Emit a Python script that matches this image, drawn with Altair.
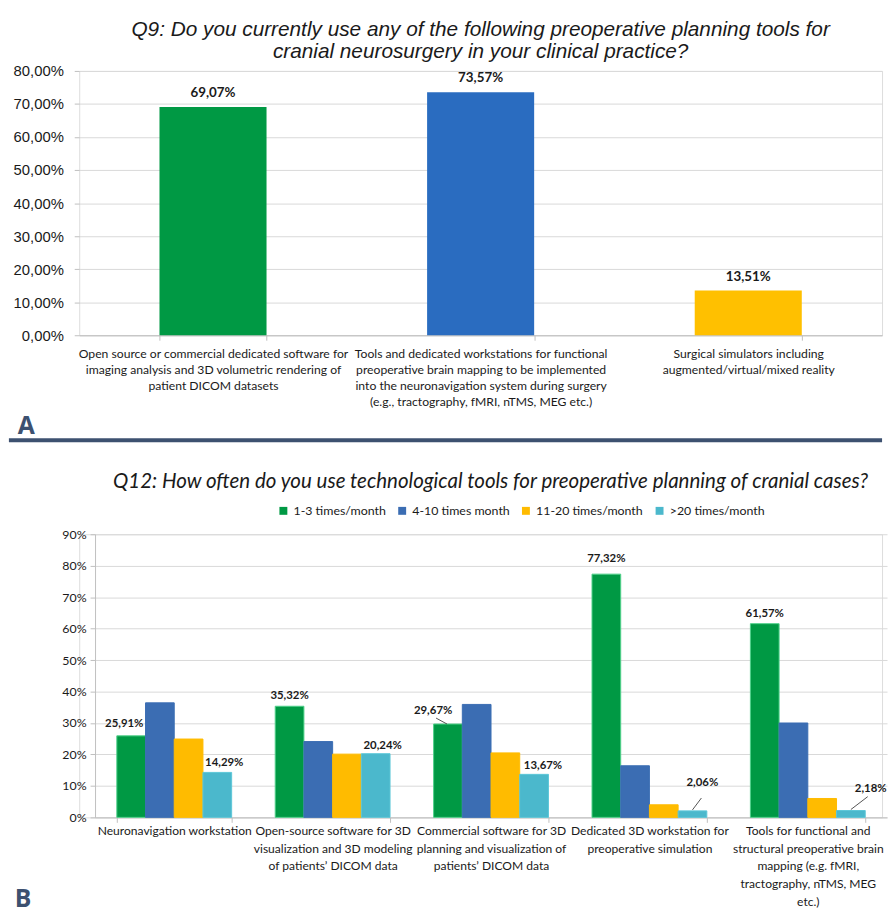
import altair as alt
import pandas as pd

# ---------------- data ----------------
q9_title = ["Q9: Do you currently use any of the following preoperative planning tools for",
            "cranial neurosurgery in your clinical practice?"]
q9_label_lines = [
    ["Open source or commercial dedicated software for",
     "imaging analysis and 3D volumetric rendering of",
     "patient DICOM datasets"],
    ["Tools and dedicated workstations for functional",
     "preoperative brain mapping to be implemented",
     "into the neuronavigation system during surgery",
     "(e.g., tractography, fMRI, nTMS, MEG etc.)"],
    ["Surgical simulators including",
     "augmented/virtual/mixed reality"],
]
q9_values = [69.07, 73.57, 13.51]
q9_colors = ["#009944", "#2a6cc0", "#ffc000"]

q12_title = "Q12: How often do you use technological tools for preoperative planning of cranial cases?"
q12_label_lines = [
    ["Neuronavigation workstation"],
    ["Open-source software for 3D", "visualization and 3D modeling", "of patients\u2019 DICOM data"],
    ["Commercial software for 3D", "planning and visualization of", "patients\u2019 DICOM data"],
    ["Dedicated 3D workstation for", "preoperative simulation"],
    ["Tools for functional and", "structural preoperative brain", "mapping (e.g. fMRI,",
     "tractography, nTMS, MEG", "etc.)"],
]
q12_series = ["1-3 times/month", "4-10 times month", "11-20 times/month", ">20 times/month"]
q12_s1 = [25.91, 35.32, 29.67, 77.32, 61.57]
q12_s2 = [36.4, 24.1, 35.9, 16.4, 30.0]
q12_s3 = [24.9, 20.1, 20.5, 4.0, 6.0]
q12_s4 = [14.29, 20.24, 13.67, 2.06, 2.18]
q12_colors = ["#009944", "#3b6db3", "#ffbb00", "#4bb8cc"]
q12_edges = ["#4fd08a", "#3b6db3", "#ffbb00", "#5cc6d8"]
# which bars carry a value label (category index, series index)
q12_labelled = [(0, 0), (0, 3), (1, 0), (1, 3), (2, 0), (2, 3), (3, 0), (3, 3), (4, 0), (4, 3)]
# label offsets in pixels (style only)
q12_label_offsets = [(-7, -9), (7, -6), (0, -7), (7, -5), (-15, -10), (9, -5), (0, -12), (10, -25), (0, -7), (20, -19)]
# leader lines (category index, series index) and their pixel path (style only)
q12_leaders = [(2, 0), (3, 3), (4, 3)]
q12_leader_paths = ["M-1,0L-12,-6", "M0,-1L9,-13", "M0,-1L17,-14"]

# ---------------- build ----------------
SEP = "|"
q9_cats = [SEP.join(l) for l in q9_label_lines]
q12_cats = [SEP.join(l) for l in q12_label_lines]
q12_all = [q12_s1, q12_s2, q12_s3, q12_s4]

df9 = pd.DataFrame({"cat": q9_cats, "value": q9_values, "color": q9_colors})

rows = []
for ci, cat in enumerate(q12_cats):
    for si, s in enumerate(q12_series):
        rows.append({"cat": cat, "series": s, "value": q12_all[si][ci]})
df12 = pd.DataFrame(rows)

W = 811
H9 = 267
H12 = 286
NARROW = "Liberation Sans Narrow, Arial Narrow, Liberation Sans, sans-serif"
LABEL_FONT = "Lato"
GRID = "#d9d9d9"
AXC = "#bfbfbf"
DARK = "#3d5170"
TXT = "#1a1a1a"

pct2 = "replace(format(datum.value, '.2f'), '.', ',') + '%'"

x9 = alt.X("cat:N", sort=q9_cats, title=None,
           scale=alt.Scale(paddingInner=0.6, paddingOuter=0.3),
           axis=alt.Axis(labelAngle=0, labelExpr="split(datum.label, '|')",
                         labelLineHeight=16.3, labelFontSize=12.3, labelFont=LABEL_FONT,
                         labelColor=TXT, labelPadding=7, tickBand="extent",
                         domainColor=AXC, tickColor=AXC, tickSize=5, labelLimit=400, grid=False))
y9 = alt.Y("value:Q", title=None, scale=alt.Scale(domain=[0, 80], nice=False),
           axis=alt.Axis(values=list(range(0, 81, 10)), labelExpr=pct2, domain=False,
                         tickColor=AXC, tickSize=5, gridColor=GRID, labelFont=NARROW,
                         labelFontSize=15, labelColor=TXT, labelPadding=11,
                         labelOverlap=False, minExtent=72, maxExtent=72))

bars9 = alt.Chart(df9).mark_bar().encode(x=x9, y=y9, color=alt.Color("color:N", scale=None))
text9 = alt.Chart(df9).mark_text(dy=-10, fontWeight="bold", fontSize=13.5, font=LABEL_FONT,
                                 baseline="alphabetic", color=TXT).transform_calculate(
    lbl=pct2
).encode(x=x9, y=y9, text="lbl:N")

one = pd.DataFrame({"k": [0]})
letterA = alt.Chart(one).mark_text(text="A", fontSize=25, fontWeight="bold", font="Open Sans",
                                   color=DARK, align="left", baseline="alphabetic").encode(
    x=alt.value(-62), y=alt.value(367))
sep = alt.Chart(one).mark_rule(color=DARK, strokeWidth=4).encode(
    x=alt.value(-71), x2=alt.value(W), y=alt.value(373))

top = alt.layer(bars9, text9, letterA, sep).properties(
    width=W, height=H9,
    title=alt.TitleParams(q9_title, font=NARROW, fontSize=21.0, fontStyle="italic",
                          fontWeight="normal", color=TXT, anchor="middle",
                          lineHeight=22, offset=2))

# bottom chart
x12 = alt.X("cat:N", sort=q12_cats, title=None,
            scale=alt.Scale(range=[16, 816], paddingInner=0.275, paddingOuter=0.1375),
            axis=alt.Axis(labelAngle=0, labelExpr="split(datum.label, '|')",
                          labelLineHeight=18, labelFontSize=12.2, labelFont=LABEL_FONT,
                          labelColor=TXT, labelPadding=2, tickBand="extent",
                          domainColor=AXC, tickColor=AXC, tickSize=5, labelLimit=400, grid=False))
xo12 = alt.XOffset("series:N", sort=q12_series, scale=alt.Scale(paddingInner=0, paddingOuter=0))
y12 = alt.Y("value:Q", title=None, scale=alt.Scale(domain=[0, 90], nice=False),
            axis=alt.Axis(values=list(range(0, 91, 10)), labelExpr="datum.value + '%'",
                          offset=-16, domainColor=AXC, tickColor=AXC, tickSize=5,
                          gridColor=GRID, labelFont=LABEL_FONT, labelFontSize=12.5,
                          labelColor=TXT, labelPadding=4, labelOverlap=False))

bars12 = alt.Chart(df12).mark_bar(strokeWidth=1).encode(
    x=x12, xOffset=xo12, y=y12,
    color=alt.Color("series:N", sort=q12_series,
                    scale=alt.Scale(domain=q12_series, range=q12_colors),
                    legend=alt.Legend(title=None, orient="none", legendX=200, legendY=-30,
                                      direction="horizontal", symbolType="square",
                                      symbolSize=64, symbolStrokeWidth=0,
                                      labelFontSize=12.5, labelFont=LABEL_FONT,
                                      labelColor=TXT, columnPadding=10)),
    stroke=alt.Stroke("series:N", sort=q12_series,
                      scale=alt.Scale(domain=q12_series, range=q12_edges), legend=None))

label_layers = []
for (ci, si), (dx, dy) in zip(q12_labelled, q12_label_offsets):
    d = pd.DataFrame({"cat": [q12_cats[ci]], "series": [q12_series[si]],
                      "value": [q12_all[si][ci]]})
    label_layers.append(
        alt.Chart(d).mark_text(dx=dx, dy=dy, fontWeight="bold", fontSize=11.5, font=LABEL_FONT,
                               baseline="alphabetic", color=TXT).transform_calculate(
            lbl=pct2
        ).encode(x=x12, xOffset=xo12, y=y12, text="lbl:N"))

leader_layers = []
for (ci, si), path in zip(q12_leaders, q12_leader_paths):
    d = pd.DataFrame({"cat": [q12_cats[ci]], "series": [q12_series[si]],
                      "value": [q12_all[si][ci]]})
    leader_layers.append(
        alt.Chart(d).mark_point(shape=path, size=4, filled=False, stroke="#404040",
                                strokeWidth=0.9, opacity=1).encode(
            x=x12, xOffset=xo12, y=y12))

letterB = alt.Chart(one).mark_text(text="B", fontSize=25, fontWeight="bold", font="Open Sans",
                                   color=DARK, align="left", baseline="alphabetic").encode(
    x=alt.value(-65), y=alt.value(377))

bottom = alt.layer(bars12, *label_layers, *leader_layers, letterB).properties(
    width=W, height=H12,
    title=alt.TitleParams(q12_title, font=LABEL_FONT, fontSize=20.7, fontStyle="italic",
                          fontWeight="normal", color=TXT, anchor="middle", offset=12, dx=10))

chart = alt.vconcat(top, bottom, spacing=27).resolve_legend(color="independent").resolve_scale(
    color="independent", stroke="independent").properties(
    padding={"left": 6, "top": 14, "right": 0, "bottom": 0}
).configure_view(stroke=None).configure(font=LABEL_FONT)

chart.save("out.html", embed_options={"renderer": "svg", "actions": False})
